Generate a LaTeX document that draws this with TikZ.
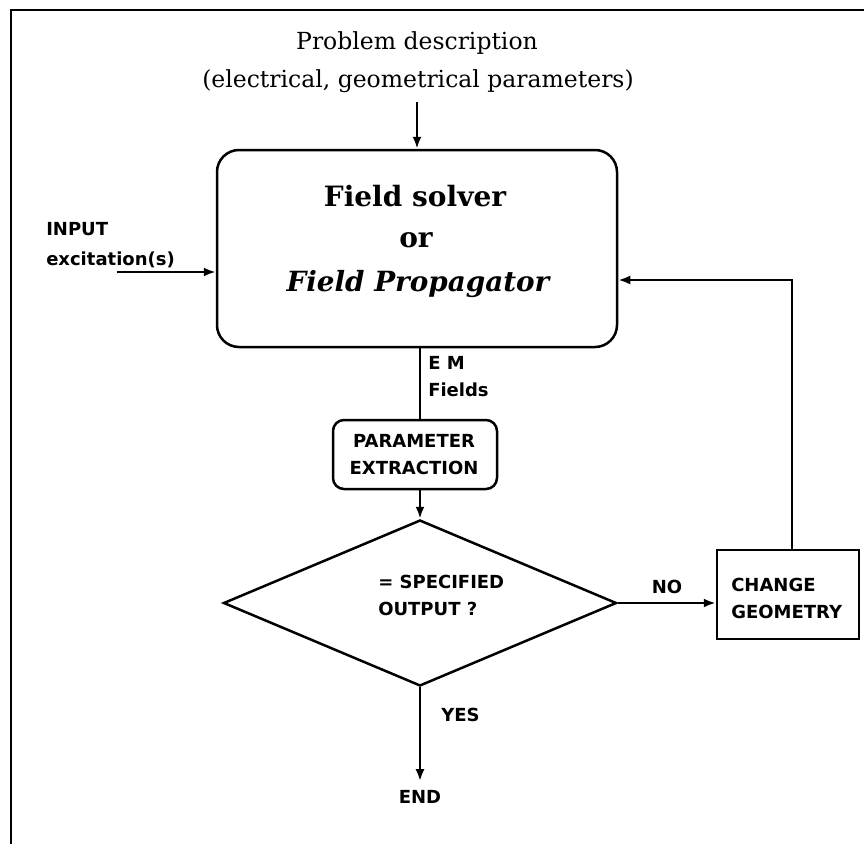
\documentclass[tikz,border=0pt]{standalone}
\usepackage{fontspec}
\setmainfont{DejaVu Serif}
\newfontfamily\labelfont{DejaVu Sans}
\usetikzlibrary{shapes.geometric,arrows.meta}
\begin{document}
\begin{tikzpicture}[x=1pt,y=-1pt,line width=2.5pt,
  lbl/.style={font=\labelfont\bfseries\fontsize{18}{27}\selectfont,inner sep=0pt,align=left},
  arr/.style={-{Latex[length=12pt,width=9pt]}}]
\useasboundingbox (0,0) rectangle (864,844);
% frame
\draw[line width=2.8pt] (11,844) -- (11,10) -- (864,10);
% title
\node[font=\fontsize{23.5}{28}\selectfont,inner sep=0pt] (t1) at (417,43) {Problem description};
\node[font=\fontsize{23.5}{28}\selectfont,inner sep=0pt] (t2) at (418,81) {(electrical, geometrical parameters)};
% solver
\node[draw,rounded corners=22pt,minimum width=400pt,minimum height=197pt,inner sep=0pt] (solver) at (417,248.5) {};
\node[font=\bfseries\fontsize{28}{30}\selectfont,inner sep=0pt] (s1) at (415,196) {Field solver};
\node[font=\bfseries\fontsize{28}{30}\selectfont,inner sep=0pt] (s2) at (416,240) {or};
\node[font=\bfseries\itshape\fontsize{27.8}{30}\selectfont,inner sep=0pt] (s3) at (418,284) {Field Propagator};
\coordinate (ptop) at (417,102);
\draw[arr] (ptop) -- (solver.north);
% input
\node[lbl,anchor=west,font=\labelfont\bfseries\fontsize{18}{30}\selectfont] (inp) at (45,245) {INPUT\\excitation(s)};
\coordinate (inpstart) at (117,272);
\draw[arr] (inpstart) -- (inpstart -| solver.west);
% param extraction
\node[draw,rounded corners=11pt,minimum width=164pt,minimum height=69pt,inner sep=0pt] (param) at (415,454.5) {};
\node[lbl,align=center] (ptext) at (414,455) {PARAMETER\\EXTRACTION};
\coordinate (spine) at (420,0);
\draw (spine |- solver.south) -- (spine |- param.north);
\node[lbl,anchor=west] (em) at (427,377) {E M\\Fields};
% diamond
\node[draw,diamond,minimum width=393pt,minimum height=166pt,inner sep=0pt] (dec) at (420,603) {};
\node[lbl,anchor=west] (dtext) at (377,595) {= SPECIFIED\\OUTPUT ?};
\draw[arr] (spine |- param.south) -- (dec.north);
% change geometry
\node[draw,minimum width=142pt,minimum height=89pt,inner sep=0pt] (chg) at (788,594.5) {};
\node[lbl,anchor=west] (ctext) at (730,598) {CHANGE\\GEOMETRY};
\draw[arr] (dec.east) -- (dec.east -| chg.west);
\node[lbl] (no) at (667,587) {NO};
\coordinate (fbtop) at (792,280);
\draw[arr] (chg.north -| fbtop) -- (fbtop) -- (fbtop -| solver.east);
% end
\node[lbl] (endt) at (420,797) {END};
\draw[arr] (dec.south) -- ([yshift=8pt]endt.north);
\node[lbl,anchor=west] (yes) at (440,715) {YES};
\end{tikzpicture}
\end{document}
